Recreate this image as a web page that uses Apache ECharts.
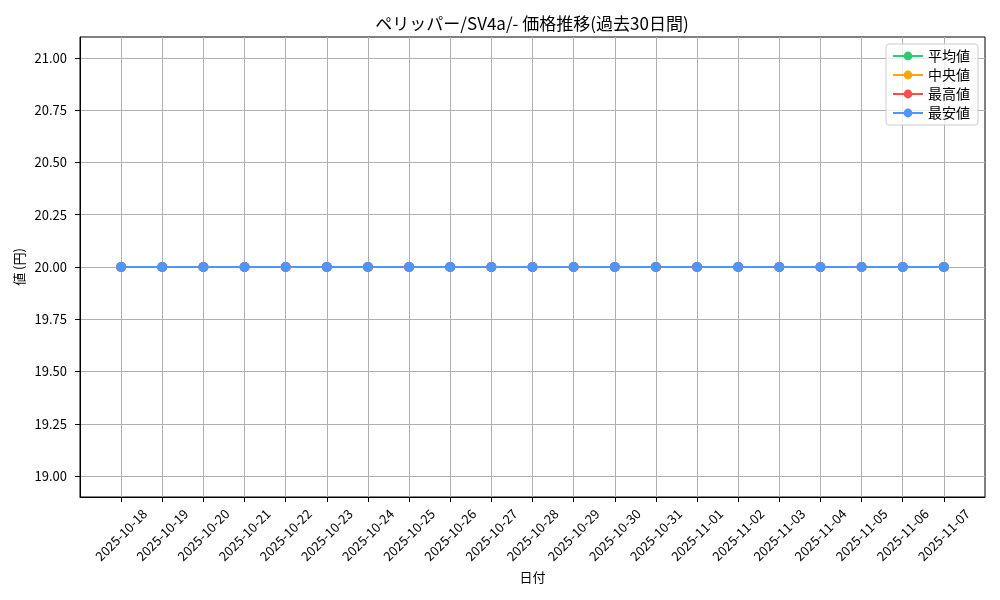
<!DOCTYPE html>
<html>
<head>
<meta charset="utf-8">
<script src="https://cdn.jsdelivr.net/npm/echarts@6/dist/echarts.min.js"></script>
<style>
  html, body { margin: 0; padding: 0; background: #fff; }
  #main { width: 1000px; height: 600px; }
</style>
</head>
<body>
<div id="main"></div>
<script>
var dates = [
  '2025-10-18', '2025-10-19', '2025-10-20', '2025-10-21', '2025-10-22',
  '2025-10-23', '2025-10-24', '2025-10-25', '2025-10-26', '2025-10-27',
  '2025-10-28', '2025-10-29', '2025-10-30', '2025-10-31', '2025-11-01',
  '2025-11-02', '2025-11-03', '2025-11-04', '2025-11-05', '2025-11-06',
  '2025-11-07'
];
var avgPrice = [20, 20, 20, 20, 20, 20, 20, 20, 20, 20, 20, 20, 20, 20, 20, 20, 20, 20, 20, 20, 20];
var medianPrice = [20, 20, 20, 20, 20, 20, 20, 20, 20, 20, 20, 20, 20, 20, 20, 20, 20, 20, 20, 20, 20];
var maxPrice = [20, 20, 20, 20, 20, 20, 20, 20, 20, 20, 20, 20, 20, 20, 20, 20, 20, 20, 20, 20, 20];
var minPrice = [20, 20, 20, 20, 20, 20, 20, 20, 20, 20, 20, 20, 20, 20, 20, 20, 20, 20, 20, 20, 20];
var yTicks = [19, 19.25, 19.5, 19.75, 20, 20.25, 20.5, 20.75, 21];

var font = '"Noto Sans CJK JP", sans-serif';
var chartDom = document.getElementById('main');
var myChart = echarts.init(chartDom);
var option;

var xIdx = dates.map(function (d, i) { return i; });

function pairs(values) {
  return values.map(function (v, i) { return [i, v]; });
}

function lineSeries(name, color, values) {
  return {
    name: name,
    type: 'line',
    data: pairs(values),
    symbol: 'circle',
    symbolSize: 10,
    showSymbol: true,
    lineStyle: { color: color, width: 2 },
    itemStyle: { color: color },
    emphasis: { disabled: true }
  };
}

option = {
  animation: false,
  textStyle: { fontFamily: font },
  title: {
    text: 'ペリッパー/SV4a/- 価格推移(過去30日間)',
    left: 527,
    textAlign: 'center',
    top: 10,
    textStyle: { fontFamily: font, fontSize: 17, fontWeight: 'normal', color: '#000' }
  },
  legend: {
    orient: 'vertical',
    right: 22,
    top: 44,
    itemWidth: 30,
    itemHeight: 11,
    itemGap: 5,
    padding: [5, 8, 5, 6],
    borderColor: '#cccccc',
    borderWidth: 1,
    borderRadius: 3,
    backgroundColor: 'rgba(255,255,255,0.8)',
    textStyle: { fontFamily: font, fontSize: 14, color: '#000' },
    data: ['平均値', '中央値', '最高値', '最安値']
  },
  grid: {
    left: 80,
    right: 15,
    top: 37,
    bottom: 103,
    show: true,
    borderColor: '#000',
    borderWidth: 1
  },
  xAxis: {
    type: 'value',
    min: -1,
    max: 21,
    name: '日付',
    nameLocation: 'middle',
    nameGap: 74,
    nameMoveOverlap: false,
    nameTextStyle: { fontFamily: font, fontSize: 13, color: '#000' },
    axisLine: { show: true, onZero: false, lineStyle: { color: '#000' } },
    axisTick: { show: true, length: 5, customValues: xIdx, lineStyle: { color: '#000' } },
    axisLabel: {
      customValues: xIdx,
      rotate: 45,
      align: 'center',
      verticalAlign: 'middle',
      fontFamily: font,
      fontSize: 13,
      color: '#000',
      margin: 38,
      formatter: function (v) { return dates[Math.round(v)] || ''; }
    },
    splitLine: { show: true, lineStyle: { color: '#b0b0b0', width: 1 } }
  },
  yAxis: {
    type: 'value',
    min: 18.9,
    max: 21.1,
    name: '値 (円)',
    nameLocation: 'middle',
    nameGap: 54,
    nameMoveOverlap: false,
    nameRotate: 90,
    nameTextStyle: { fontFamily: font, fontSize: 13, color: '#000' },
    axisLine: { show: true, onZero: false, lineStyle: { color: '#000' } },
    axisTick: { show: true, length: 5, customValues: yTicks, lineStyle: { color: '#000' } },
    axisLabel: {
      customValues: yTicks,
      fontFamily: font,
      fontSize: 13,
      color: '#000',
      margin: 13,
      formatter: function (v) { return v.toFixed(2); }
    },
    splitLine: { show: true, lineStyle: { color: '#b0b0b0', width: 1 } }
  },
  series: [
    lineSeries('平均値', '#2ecc71', avgPrice),
    lineSeries('中央値', '#ffa500', medianPrice),
    lineSeries('最高値', '#ff4d4d', maxPrice),
    lineSeries('最安値', '#4d96ff', minPrice)
  ]
};

option && myChart.setOption(option);
</script>
</body>
</html>
